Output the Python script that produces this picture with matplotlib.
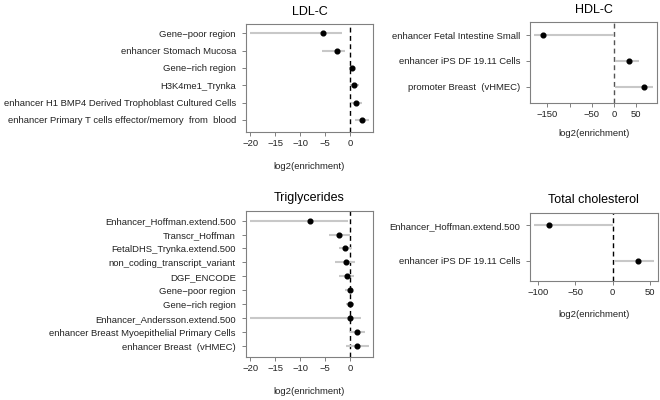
import matplotlib
matplotlib.use("Agg")
import matplotlib.pyplot as plt

plt.rcParams['font.family'] = ['Liberation Sans', 'DejaVu Sans']

# LDL-C
ldl_labels = ['Gene\u2212poor region', 'enhancer Stomach Mucosa', 'Gene\u2212rich region',
              'H3K4me1_Trynka', 'enhancer H1 BMP4 Derived Trophoblast Cultured Cells',
              'enhancer Primary T cells effector/memory  from  blood']
ldl_est = [-5.3, -2.5, 0.45, 0.8, 1.25, 2.45]
ldl_lo = [-20.0, -5.5, 0.2, 0.0, 0.2, 1.1]
ldl_hi = [-1.5, -0.9, 0.7, 1.8, 2.4, 3.8]

# HDL-C
hdl_labels = ['enhancer Fetal Intestine Small', 'enhancer iPS DF 19.11 Cells',
              'promoter Breast  (vHMEC)']
hdl_est = [-159, 33, 67]
hdl_lo = [-180, 2, 2]
hdl_hi = [0, 55, 88]

# Triglycerides
tg_labels = ['Enhancer_Hoffman.extend.500', 'Transcr_Hoffman', 'FetalDHS_Trynka.extend.500',
             'non_coding_transcript_variant', 'DGF_ENCODE', 'Gene\u2212poor region',
             'Gene\u2212rich region', 'Enhancer_Andersson.extend.500',
             'enhancer Breast Myoepithelial Primary Cells', 'enhancer Breast  (vHMEC)']
tg_est = [-7.9, -2.1, -0.9, -0.7, -0.5, -0.05, 0.05, 0.1, 1.45, 1.5]
tg_lo = [-20.0, -4.1, -2.1, -2.9, -2.1, -1.0, -0.8, -20.0, 0.0, -0.8]
tg_hi = [-0.3, 0.0, 0.3, 1.1, 0.8, 0.7, 0.8, 2.2, 3.1, 3.8]

# Total cholesterol
tc_labels = ['Enhancer_Hoffman.extend.500', 'enhancer iPS DF 19.11 Cells']
tc_est = [-86, 34]
tc_lo = [-106, 2]
tc_hi = [0, 55]

W, H = 660, 400
fig = plt.figure(figsize=(6.6, 4.0), dpi=100)
FS = 6.8


def panel(box, title, labels, est, lo, hi, xlim, pads, xticks, xticklabels,
          lab_off, dash_col='black'):
    left, top, right, bottom = box
    ax = fig.add_axes([left / W, 1 - bottom / H, (right - left) / W, (bottom - top) / H])
    ys = list(range(len(labels)))
    ax.hlines(ys, lo, hi, color='#c8c8c8', lw=1.5, zorder=2)
    ax.plot(est, ys, 'o', color='black', ms=3.4, zorder=3)
    ax.axvline(0, color=dash_col, lw=1.0, ls=(0, (3.5, 2.5)), zorder=1)
    ax.set_xlim(*xlim)
    ax.set_ylim(len(labels) - 1 + pads[1], -pads[0])
    ax.set_yticks(ys)
    ax.set_yticklabels(labels)
    ax.set_xticks(xticks)
    ax.set_xticklabels(xticklabels)
    for s in ax.spines.values():
        s.set_color('#808080')
        s.set_linewidth(0.8)
    ax.tick_params(axis='both', length=3, width=0.7, color='#808080', labelsize=FS,
                   labelcolor='#222222')
    ax.tick_params(axis='y', pad=4)
    ax.tick_params(axis='x', pad=2)
    ax.set_title(title, fontsize=9, pad=7)
    ax.set_xlabel('log2(enrichment)', fontsize=FS, color='#222222')
    ax.xaxis.set_label_coords(0.5, -lab_off / (bottom - top))
    ax.xaxis.label.set_va('center')
    return ax


panel((245.7, 24.3, 373.3, 132.3), 'LDL-C', ldl_labels, ldl_est, ldl_lo, ldl_hi,
      (-20.9, 4.7), (0.52, 0.71), [-20, -15, -10, -5, 0],
      ['\u221220', '\u221215', '\u221210', '\u22125', '0'], 34.4)
panel((530, 22.3, 657.5, 103.3), 'HDL-C', hdl_labels, hdl_est, hdl_lo, hdl_hi,
      (-189, 97.5), (0.49, 0.63), [-150, -100, -50, 0, 50],
      ['\u2212150', '', '\u221250', '0', '50'], 30, dash_col='#555555')
panel((245.7, 210.7, 373.3, 356.7), 'Triglycerides', tg_labels, tg_est, tg_lo, tg_hi,
      (-20.9, 4.7), (0.71, 0.76), [-20, -15, -10, -5, 0],
      ['\u221220', '\u221215', '\u221210', '\u22125', '0'], 35)
panel((530, 212.7, 657.7, 281), 'Total cholesterol', tc_labels, tc_est, tc_lo, tc_hi,
      (-110.8, 60.3), (0.35, 0.56), [-100, -50, 0, 50],
      ['\u2212100', '\u221250', '0', '50'], 33.3)

fig.savefig('out.png', dpi=100)
